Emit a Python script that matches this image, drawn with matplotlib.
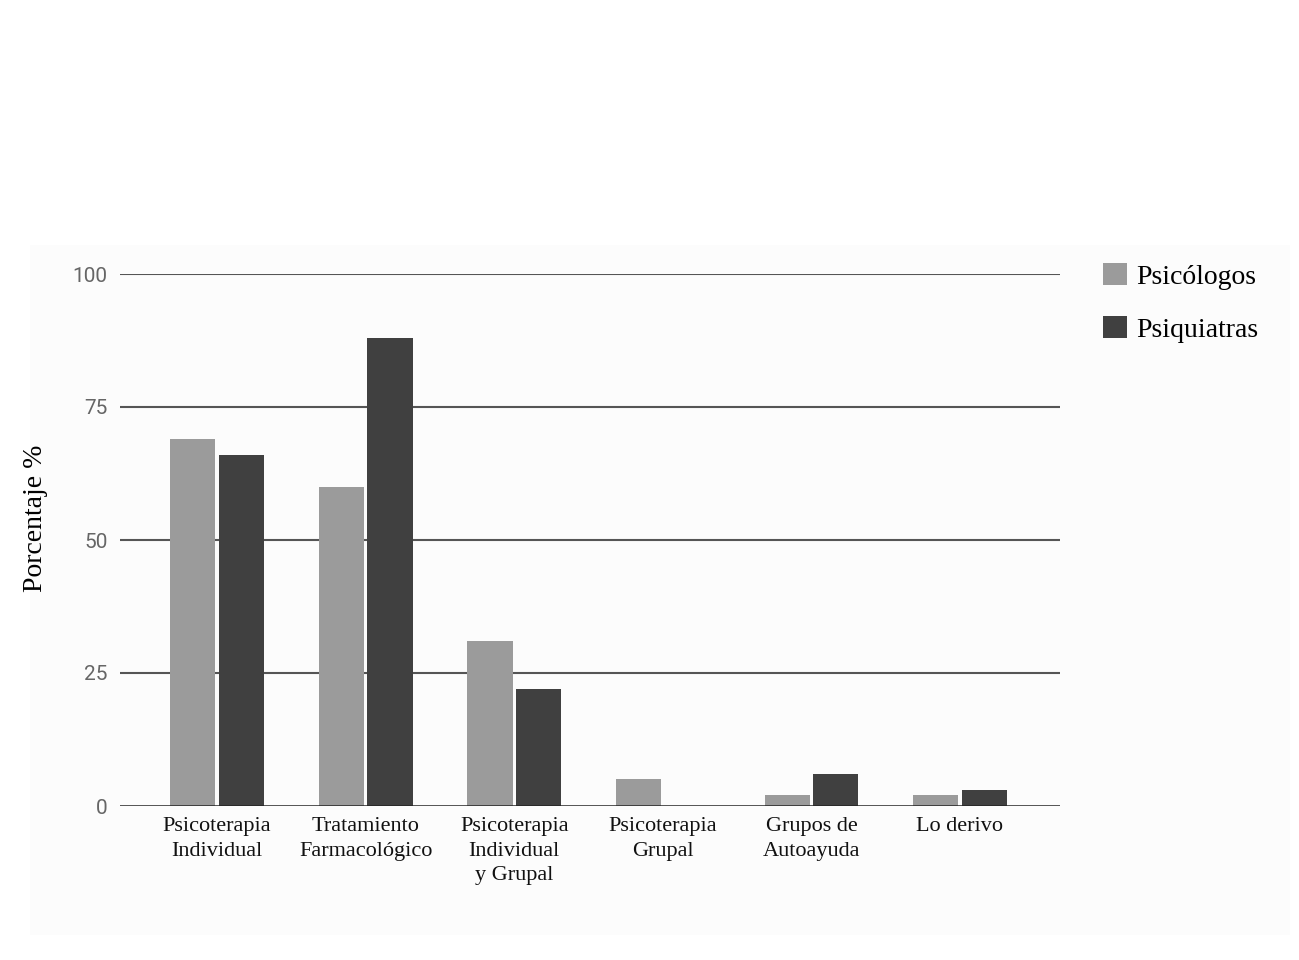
import matplotlib
matplotlib.use("Agg")
import matplotlib.pyplot as plt
import numpy as np
from matplotlib.patches import Rectangle

categories = ["Psicoterapia\nIndividual", "Tratamiento\nFarmacológico",
              "Psicoterapia\nIndividual\ny Grupal", "Psicoterapia\nGrupal",
              "Grupos de\nAutoayuda", "Lo derivo"]
psicologos = [69, 60, 31, 5, 2, 2]
psiquiatras = [66, 88, 22, 0, 6, 3]
series_names = ["Psicólogos", "Psiquiatras"]
yticks = [0, 25, 50, 75, 100]

serif = ["Liberation Serif", "DejaVu Serif"]

fig = plt.figure(figsize=(12.99, 9.6), dpi=100)
fig.patch.set_facecolor("white")
# light background panel
fig.add_artist(Rectangle((30/1299, (960-935)/960), 1260/1299, 690/960,
                         transform=fig.transFigure, facecolor="#fcfcfc",
                         edgecolor="none", zorder=-10))

ax = fig.add_axes([120/1299, 154/960, 940/1299, 532/960])
ax.set_facecolor("none")

x = np.arange(len(categories))
w = 0.305
ax.bar(x - 0.163, psicologos, width=w, color="#9b9b9b", label=series_names[0], zorder=3)
ax.bar(x + 0.163, psiquiatras, width=w, color="#404040", label=series_names[1], zorder=3)

ax.set_xlim(-0.653, 5.673)
ax.set_ylim(0, 100)
ax.set_yticks(yticks)
ax.set_yticklabels([str(v) for v in yticks], fontsize=15, color="#666666",
                   fontfamily=["Roboto", "DejaVu Sans"])
ax.set_xticks(x)
ax.set_xticklabels(categories, fontsize=16, fontfamily=serif, linespacing=1.4,
                   va="top", color="#111111")
ax.tick_params(axis="both", length=0)
ax.tick_params(axis="y", pad=9)
ax.tick_params(axis="x", pad=8)

for v in yticks[1:]:
    ax.axhline(v, color="#555555", lw=1.5, zorder=1)
ax.axhline(0, color="#222222", lw=1.8, zorder=4)

for s in ax.spines.values():
    s.set_visible(False)

ax.set_ylabel("Porcentaje %", fontsize=20, fontfamily=serif)
ax.yaxis.set_label_coords(-0.077, 0.54)

fig.legend(loc="upper left", bbox_to_anchor=(1078/1299, (960-238)/960),
           frameon=False, prop={"family": serif, "size": 20},
           handlelength=0.85, handleheight=0.85, labelspacing=0.95, handletextpad=0.35)

fig.savefig("out.png", dpi=100)
